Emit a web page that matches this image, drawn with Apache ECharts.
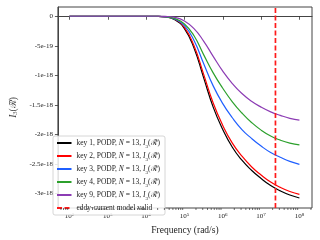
<!DOCTYPE html>
<html><head><meta charset="utf-8">
<script src="https://cdn.jsdelivr.net/npm/echarts@6/dist/echarts.min.js"></script>
<style>html,body{margin:0;padding:0;background:#fff}#c{width:320px;height:240px}</style>
</head><body><div id="c"></div>
<script>
// angular frequency (rad/s)
const omega = [100, 316.2, 1000, 3162, 10000, 17783, 31623, 56234, 1e5, 177828, 316228, 562341, 1e6,
  1778279, 3162278, 5623413, 1e7, 17782794, 31622777, 56234133, 1e8];
// I3 values in units of 1e-18
const UNIT = 1e-18;
const key1 = [0, 0, 0, 0, 0, -0.002, -0.01, -0.06, -0.21, -0.54, -1.04, -1.54, -1.92, -2.22, -2.44, -2.61, -2.75, -2.87, -2.96, -3.03, -3.08];
const key2 = [0, 0, 0, 0, 0, -0.002, -0.01, -0.05, -0.19, -0.50, -0.98, -1.47, -1.85, -2.15, -2.37, -2.55, -2.69, -2.81, -2.90, -2.97, -3.02];
const key3 = [0, 0, 0, 0, 0, -0.002, -0.01, -0.05, -0.16, -0.41, -0.80, -1.18, -1.48, -1.72, -1.92, -2.07, -2.20, -2.31, -2.39, -2.46, -2.51];
const key4 = [0, 0, 0, 0, 0, -0.001, -0.006, -0.04, -0.13, -0.33, -0.65, -0.96, -1.22, -1.45, -1.64, -1.80, -1.93, -2.03, -2.10, -2.15, -2.18];
const key9 = [0, 0, 0, 0, 0, 0, -0.003, -0.02, -0.08, -0.21, -0.42, -0.68, -0.93, -1.14, -1.31, -1.44, -1.54, -1.62, -1.68, -1.73, -1.76];
const eddyLimit = [2.37e7];
const names = ['key 1', 'key 2', 'key 3', 'key 4', 'key 9'];
const colors = ['#000000', '#ff0000', '#1f5fff', '#2ca02c', '#8c3cb4'];
const X_MIN = 50, X_MAX = 2.13e8;
const Y_MIN = -3.25e-18, Y_MAX = 1.57e-19;
const minorTicks = [60, 70, 80, 90];
[100, 1000, 1e4, 1e5, 1e6, 1e7, 1e8].forEach(d => { for (let m = 2; m <= 9; m++) if (m * d <= X_MAX) minorTicks.push(m * d); });

const FONT = 'Liberation Serif';
const allKeys = [key1, key2, key3, key4, key9];
const legendName = n => n + ', PODP, N = 13, I3(R)';
const series = allKeys.map((arr, i) => ({
  name: legendName(names[i]), type: 'line', symbol: 'none', smooth: 0.5,
  data: omega.map((w, j) => [w, arr[j] * UNIT]),
  lineStyle: { color: colors[i], width: 1.2 }, itemStyle: { color: colors[i] }, z: 3 + i
}));
series.push({
  name: 'eddy-current model valid', type: 'line', symbol: 'none',
  data: [[eddyLimit[0], Y_MIN], [eddyLimit[0], Y_MAX]],
  lineStyle: { color: '#ff1a1a', width: 1.7, type: [5, 2.5], opacity: 1 }, itemStyle: { color: '#ff1a1a' }, z: 9
});
series.push({
  type: 'custom', silent: true, clip: false, z: 10,
  data: minorTicks.map(v => [v, Y_MIN]),
  renderItem: (p, api) => {
    const c = api.coord([api.value(0), Y_MIN]);
    return { type: 'line', shape: { x1: c[0], y1: c[1], x2: c[0], y2: c[1] + 2 }, style: { stroke: '#333', lineWidth: 0.7 } };
  }
});

const rich = {
  i: { fontFamily: FONT, fontStyle: 'italic', fontSize: 7.5, lineHeight: 9 },
  t: { fontFamily: FONT, fontSize: 7.5, lineHeight: 9 },
  s: { fontFamily: FONT, fontSize: 5, verticalAlign: 'bottom', lineHeight: 9, padding: [0, 0, -2, 0] }
};
const chart = echarts.init(document.getElementById('c'), null, { renderer: 'canvas' });
chart.setOption({
  animation: false,
  grid: { left: 50, right: 8, top: 7, bottom: 31, show: true, borderColor: '#444', borderWidth: 1 },
  legend: {
    orient: 'vertical', left: 53, top: 136, padding: [2.5, 5, 2.5, 3],
    itemWidth: 14.5, itemHeight: 7, itemGap: 2,
    itemStyle: { opacity: 0 },
    backgroundColor: 'rgba(255,255,255,0.85)', borderColor: '#cccccc', borderWidth: 0.8, borderRadius: 2,
    data: series.slice(0, 6).map(s => s.name),
    textStyle: { fontFamily: FONT, fontSize: 7.5, color: '#222', lineHeight: 9, rich: rich },
    formatter: n => {
      if (n.indexOf('PODP') < 0) return '{t|' + n + '}';
      return '{t|' + n.split(',')[0] + ', PODP, }{i|N}{t| = 13, }{i|I}{s|3}{t|(ℛ\u0303)}';
    }
  },
  xAxis: {
    type: 'log', logBase: 10, min: X_MIN, max: X_MAX,
    name: 'Frequency (rad/s)', nameLocation: 'middle', nameGap: 17,
    nameTextStyle: { fontFamily: FONT, fontSize: 9.5, color: '#222' },
    axisLine: { lineStyle: { color: '#444', width: 1 } },
    axisTick: { length: 3.5, lineStyle: { color: '#333', width: 0.8 } },
    splitLine: { show: false }, minorTick: { show: false },
    axisLabel: {
      showMinLabel: false, showMaxLabel: false, margin: 4,
      formatter: v => '{b|10}{e|' + Math.round(Math.log10(v)) + '}',
      rich: {
        b: { fontFamily: FONT, fontSize: 7, color: '#222', lineHeight: 9 },
        e: { fontFamily: FONT, fontSize: 5, color: '#222', verticalAlign: 'top', lineHeight: 9 }
      }
    }
  },
  yAxis: {
    type: 'value', min: Y_MIN, max: Y_MAX,
    name: '{i|I}{s|3}{t|(ℛ\u0303)}', nameLocation: 'middle', nameGap: 35, nameRotate: 90,
    nameTextStyle: { rich: {
      i: { fontFamily: FONT, fontStyle: 'italic', fontSize: 9.5, lineHeight: 11 },
      t: { fontFamily: FONT, fontSize: 9.5, lineHeight: 11 },
      s: { fontFamily: FONT, fontSize: 6.5, verticalAlign: 'bottom', lineHeight: 11 }
    } },
    axisLine: { show: true, lineStyle: { color: '#444', width: 1 } },
    axisTick: { show: true, length: 3, lineStyle: { color: '#333', width: 0.8 } },
    splitLine: { show: false },
    axisLabel: {
      showMinLabel: false, showMaxLabel: false, margin: 5,
      fontFamily: FONT, fontSize: 7, color: '#222',
      formatter: v => Math.abs(v) < 1e-25 ? '0' : Number(v.toPrecision(3)).toExponential().replace('+', '')
    }
  },
  series: series
});
</script></body></html>
